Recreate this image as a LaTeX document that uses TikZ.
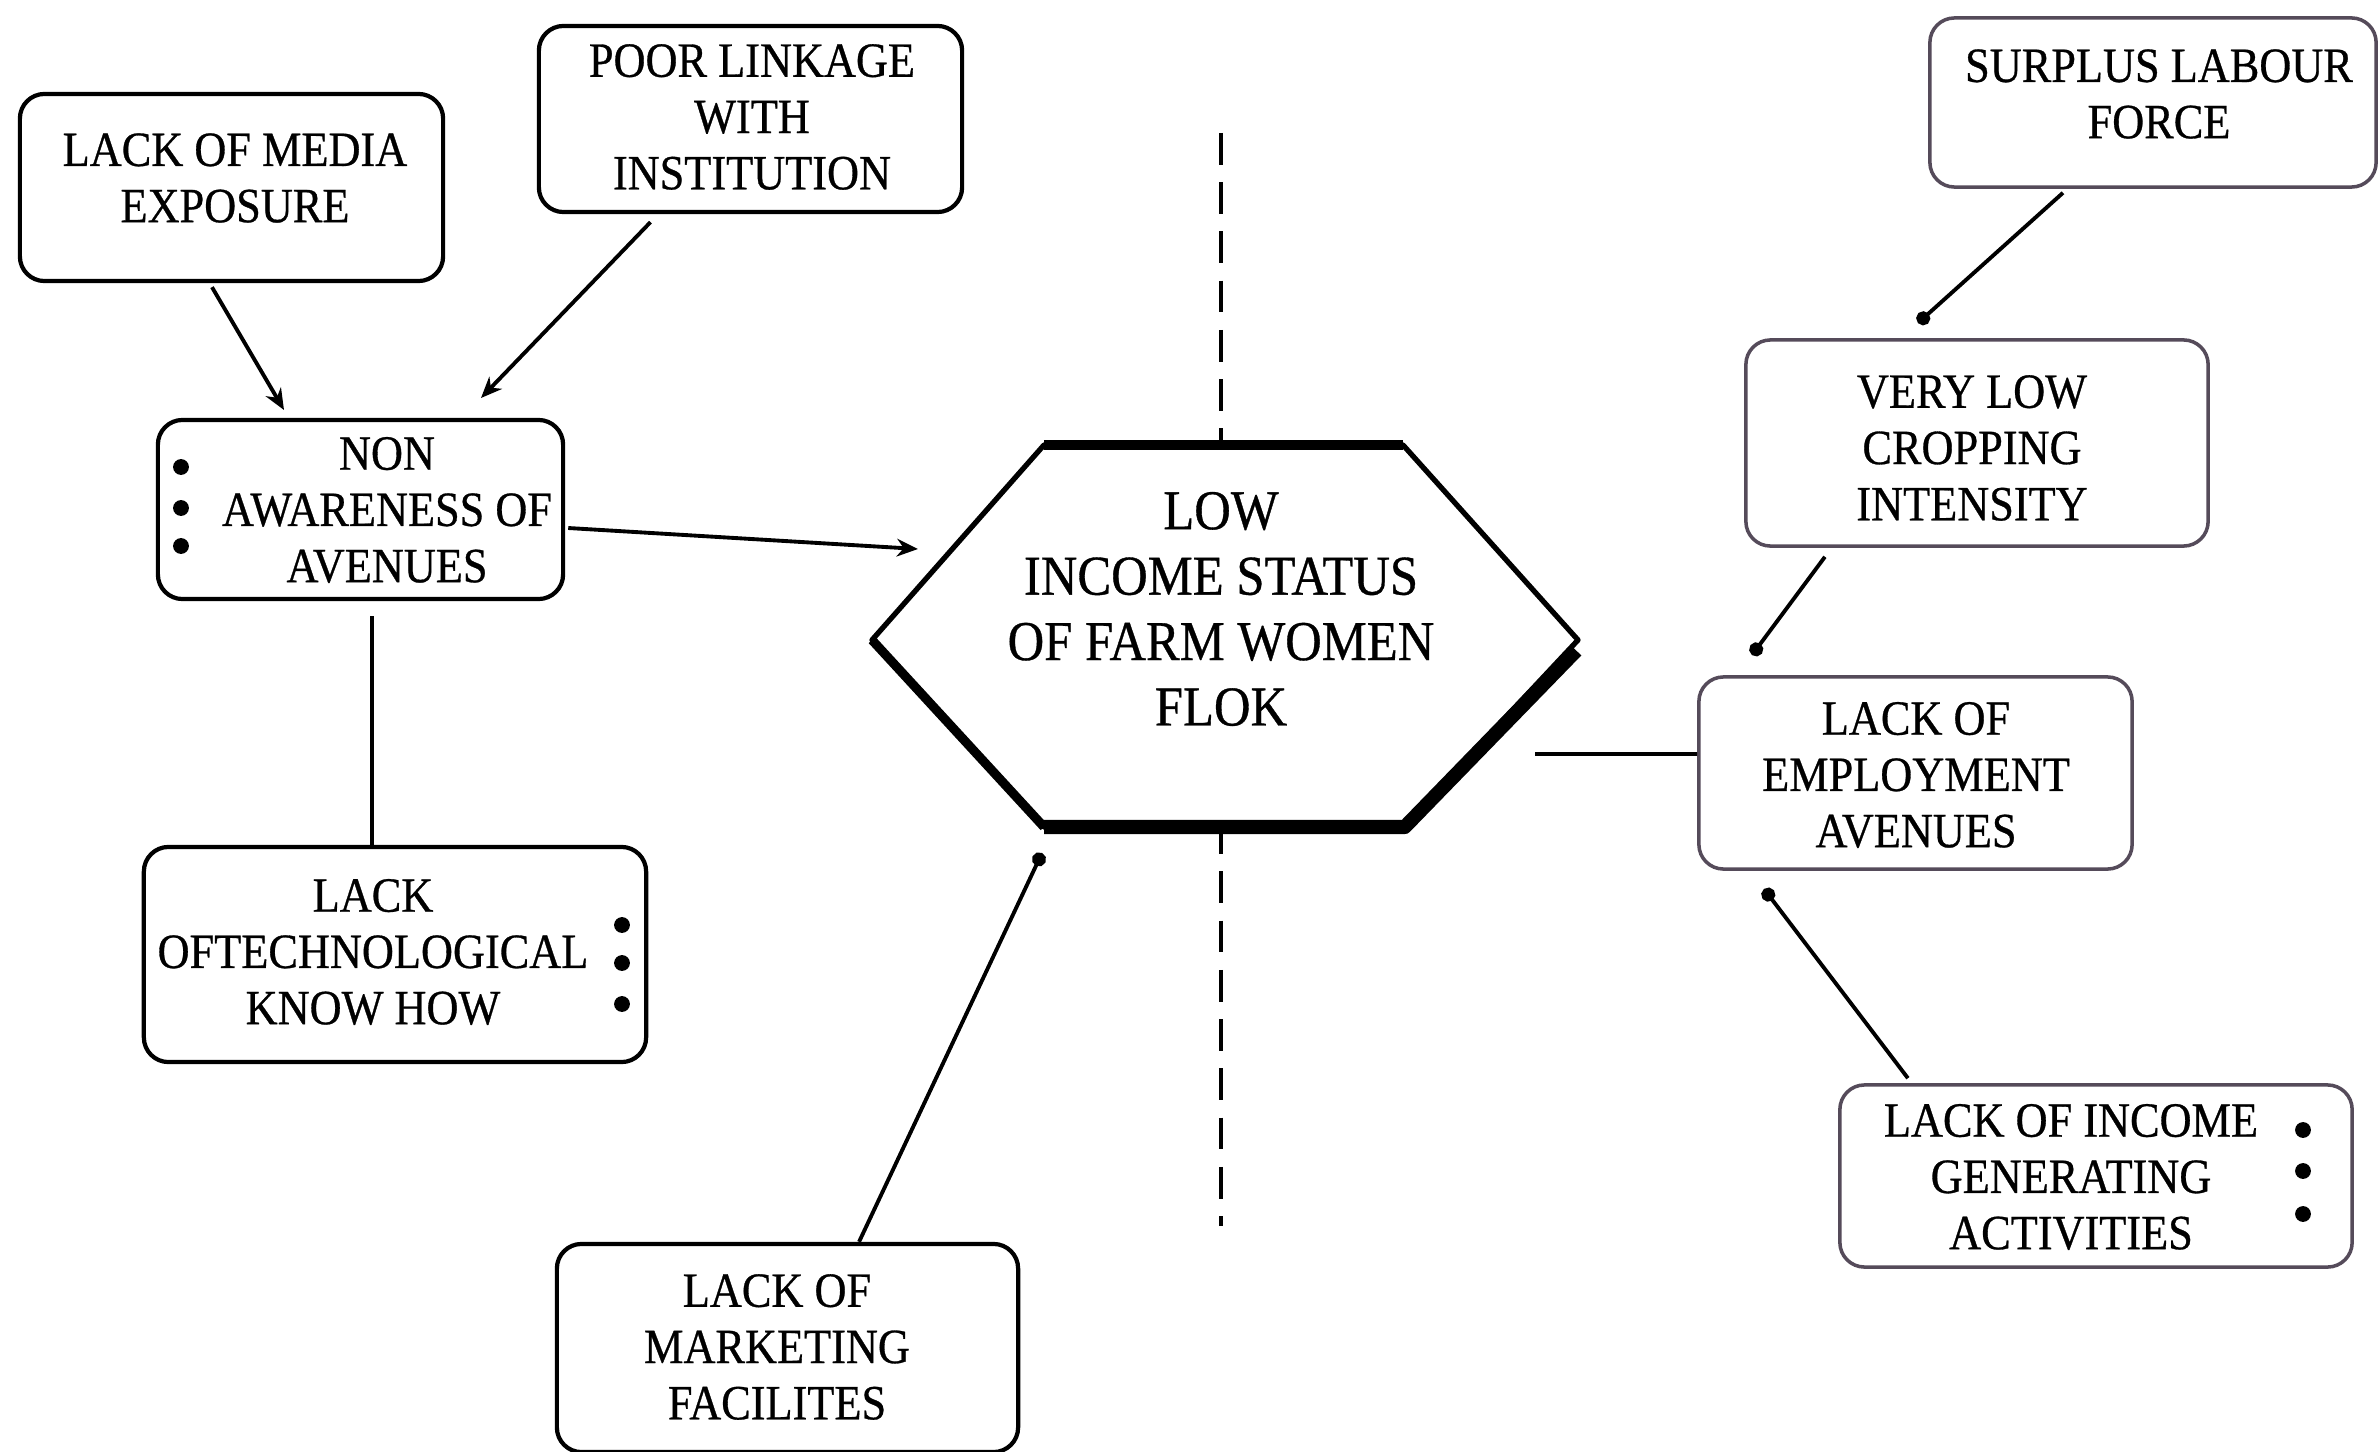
\documentclass[tikz,border=0pt]{standalone}
\usepackage{fontspec}
\setmainfont{Liberation Serif}[FakeStretch=0.9,FakeBold=0.6]
\usetikzlibrary{arrows.meta}
\definecolor{rbox}{RGB}{85,75,90}
\tikzset{
  boxl/.style={draw=black, line width=1.2pt, rounded corners=7pt, fill=white, inner sep=0pt},
  boxr/.style={draw=rbox, line width=1pt, rounded corners=7pt, fill=white, inner sep=0pt},
  txt/.style={align=center, inner sep=0pt, font=\fontsize{14}{16}\selectfont},
  hextxt/.style={align=center, inner sep=0pt, font=\fontsize{16}{18.6}\selectfont},
  conn/.style={line width=1.1pt, draw=black},
  arr/.style={conn, -{Stealth[length=6pt,width=5pt]}},
  dotend/.style={conn, -{Circle[length=4pt]}},
  bul/.style={circle, fill=black, inner sep=0pt, minimum size=4.5pt},
  dashv/.style={line width=1.3pt, dash pattern=on 9pt off 5pt}
}
\begin{document}
\begin{tikzpicture}[x=0.01cm,y=-0.01cm]
\useasboundingbox[fill=white] (0,0) rectangle (2379,1452);

% dashed axis
\coordinate (dtop) at (1221,133);
\coordinate (dbot) at (1221,1226);
\draw[dashv] (dtop) -- (dbot);

% hexagon
\coordinate (h1) at (1044,445);
\coordinate (h2) at (1403,445);
\coordinate (h3) at (1578,640);
\coordinate (h4) at (1403,827);
\coordinate (h5) at (1044,827);
\coordinate (h6) at (872,640);
\draw[line width=1.5pt, fill=white, line join=round] (h1) -- (h2) -- (h3) -- (h4) -- (h5) -- (h6) -- cycle;
\draw[line width=2.6pt] (h1) -- (h2);
\draw[line width=2.6pt] (h6) -- (h5);
\draw[line width=4pt, line join=round] ([xshift=-0.5pt,yshift=-3pt]h3) -- ([xshift=0.5pt]h4) -- (h5);
\node[hextxt] (hex) at (1221,609) {LOW\\INCOME STATUS\\OF FARM WOMEN\\FLOK};

% boxes
\node[boxl, minimum width=4.23cm, minimum height=1.87cm] (b1) at (231.5,187.5) {};
\node[txt] (t1) at (235,178) {LACK OF MEDIA\\EXPOSURE};

\node[boxl, minimum width=4.23cm, minimum height=1.86cm] (b2) at (750.5,119) {};
\node[txt] (t2) at (752,117) {POOR LINKAGE\\WITH\\INSTITUTION};

\node[boxl, minimum width=4.05cm, minimum height=1.79cm] (b3) at (360.5,509.5) {};
\node[txt] (t3) at (387,510) {NON\\AWARENESS OF\\AVENUES};
\node[bul] (p31) at (181,467) {};
\node[bul] (p32) at (181,508) {};
\node[bul] (p33) at (181,546) {};

\node[boxl, minimum width=5.02cm, minimum height=2.15cm] (b4) at (395,954.5) {};
\node[txt] (t4) at (373,952) {LACK\\OFTECHNOLOGICAL\\KNOW HOW};
\node[bul] (p41) at (622,925) {};
\node[bul] (p42) at (622,963) {};
\node[bul] (p43) at (622,1004) {};

\node[boxl, minimum width=4.61cm, minimum height=2.08cm] (b5) at (787.5,1348) {};
\node[txt] (t5) at (777,1347) {LACK OF\\MARKETING\\FACILITES};

\node[boxr, minimum width=4.46cm, minimum height=1.69cm] (b6) at (2153,102.5) {};
\node[txt] (t6) at (2159,94) {SURPLUS LABOUR\\FORCE};

\node[boxr, minimum width=4.62cm, minimum height=2.06cm] (b7) at (1977,443) {};
\node[txt] (t7) at (1972,448) {VERY LOW\\CROPPING\\INTENSITY};

\node[boxr, minimum width=4.33cm, minimum height=1.92cm] (b8) at (1915.5,773) {};
\node[txt] (t8) at (1916,775) {LACK OF\\EMPLOYMENT\\AVENUES};

\node[boxr, minimum width=5.12cm, minimum height=1.82cm] (b9) at (2096,1176) {};
\node[txt] (t9) at (2071,1177) {LACK OF INCOME\\GENERATING\\ACTIVITIES};
\node[bul] (p91) at (2303,1130) {};
\node[bul] (p92) at (2303,1171) {};
\node[bul] (p93) at (2303,1214) {};

% connector ends
\coordinate (e1) at (284,410);
\coordinate (e2) at (481,398);
\coordinate (e3) at (918,549);
\coordinate (e5) at (1042,853);
\coordinate (e6) at (1918,323);
\coordinate (e7) at (1752,655);
\coordinate (e8) at (1535,754);
\coordinate (e9) at (1764,889);

% connectors
\draw[arr] ([xshift=-0.195cm,yshift=-0.04cm]b1.south) -- (e1);
\draw[arr] ([xshift=-1.0cm,yshift=-0.08cm]b2.south) -- (e2);
\draw[arr] ([yshift=-0.185cm,xshift=0.03cm]b3.east) -- (e3);
\draw[conn] ([xshift=0.115cm,yshift=-0.15cm]b3.south) -- ([xshift=-0.23cm]b4.north);
\draw[dotend] ([xshift=0.715cm]b5.north) -- (e5);
\draw[dotend] ([xshift=-0.9cm,yshift=-0.04cm]b6.south) -- (e6);
\draw[dotend] ([xshift=-1.52cm,yshift=-0.09cm]b7.south) -- (e7);
\draw[conn] ([yshift=0.19cm]b8.west) -- (e8);
\draw[dotend] ([xshift=-1.88cm,yshift=0.05cm]b9.north) -- (e9);
\end{tikzpicture}
\end{document}
